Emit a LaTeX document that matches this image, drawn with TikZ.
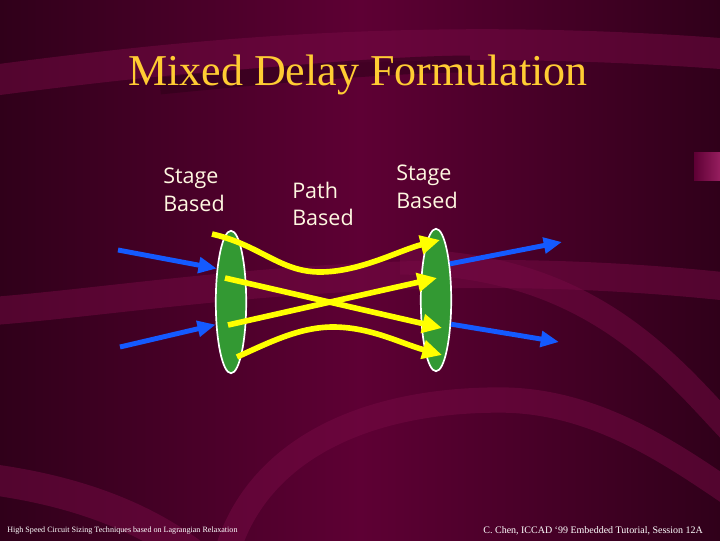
\documentclass[tikz,border=0pt]{standalone}
\usepackage{fontspec}
\setmainfont{Liberation Serif}
\newfontfamily\labelfont{Open Sans}
\usetikzlibrary{shapes.geometric,arrows.meta}

\definecolor{slidebg}{RGB}{94,0,52}
\definecolor{slidedark}{RGB}{48,0,26}
\definecolor{slidelight}{RGB}{118,10,68}
\definecolor{slidepink}{RGB}{150,30,95}
\definecolor{titlegold}{RGB}{255,204,51}
\definecolor{labelcream}{RGB}{255,248,225}
\definecolor{stagegreen}{RGB}{51,153,51}
\definecolor{wireblue}{RGB}{20,90,255}
\definecolor{pathyellow}{RGB}{255,255,0}

\begin{document}
\begin{tikzpicture}[
  x=0.025cm, y=-0.025cm,
  stage/.style={ellipse, draw=white, line width=1.2pt, fill=stagegreen, minimum width=0.76cm, minimum height=3.56cm, inner sep=0pt},
  txt/.style={align=left, text=labelcream, font=\labelfont\fontsize{15.3}{19.8}\selectfont},
  heading/.style={text=titlegold, font=\fontsize{31.3}{36}\selectfont},
  foot/.style={text=white, font=\fontsize{5.75}{7}\selectfont, inner sep=0pt},
  wire/.style={wireblue, line width=3.5pt, -{Triangle[length=13pt, width=11pt]}},
  pathwire/.style={pathyellow, line width=4pt, -{Triangle[length=14pt, width=13pt]}},
  swoosh/.style={slidelight, opacity=0.5}
]
% background
\useasboundingbox (0,0) rectangle (720,540);
\clip (0,0) rectangle (720,540);
\shade[left color=slidedark, right color=slidedark, middle color=slidebg] (0,0) rectangle (720,540);
\draw[swoosh, line width=22pt] (-20,82) .. controls (150,60) and (400,28) .. (740,55);
\draw[slidedark, line width=12pt, opacity=0.6] (160,86) .. controls (280,74) and (400,64) .. (470,64);
\draw[swoosh, line width=20pt] (-20,312) .. controls (150,300) and (400,250) .. (740,288);
\draw[swoosh, line width=18pt] (400,262) .. controls (600,262) and (680,380) .. (740,440);
\draw[swoosh, line width=22pt] (-20,478) .. controls (80,490) and (150,520) .. (200,560);
\draw[swoosh, line width=18pt] (225,560) .. controls (250,460) and (350,400) .. (500,400) .. controls (600,400) and (680,460) .. (740,500);
\shade[left color=slidebg, right color=slidepink] (694,152) rectangle (720,180);

% title and labels
\node[heading] (title) at (358,75) {Mixed Delay Formulation};
\node[txt] (lblStageL) at (194,190) {Stage\\Based};
\node[txt] (lblPath) at (323,204) {Path\\Based};
\node[txt] (lblStageR) at (427,187) {Stage\\Based};

% stages
\node[stage] (stageL) at (231,302) {};
\node[stage] (stageR) at (436,300) {};

% stage wires
\coordinate (srcTop) at (118,250);
\coordinate (srcBot) at (120,347);
\coordinate (sinkTop) at (562,242);
\coordinate (sinkBot) at (559,342);
\draw[wire] (srcTop) -- (stageL.113);
\draw[wire] (srcBot) -- (stageL.236);
\draw[wire] (stageR.69) -- (sinkTop);
\draw[wire] (stageR.-58) -- (sinkBot);

% paths
\coordinate (inA) at (212,234);
\coordinate (inB) at (225,278);
\coordinate (inC) at (228,325);
\coordinate (inD) at (237,357);
\coordinate (outA) at (440,240);
\coordinate (outB) at (442,328);
\coordinate (outC) at (437,278);
\coordinate (outD) at (442,355);
\draw[pathwire] (inA) .. controls (260,245) and (280,272) .. (320,272) .. controls (360,272) and (400,250) .. (outA);
\draw[pathwire] (inB) -- (outB);
\draw[pathwire] (inC) -- (outC);
\draw[pathwire] (inD) .. controls (270,342) and (300,327) .. (333,327) .. controls (370,327) and (400,343) .. (outD);

% footers
\node[foot, anchor=west] (footL) at (7,531) {High Speed Circuit Sizing Techniques based on Lagrangian Relaxation};
\node[foot, anchor=east, font=\fontsize{7.1}{8}\selectfont] (footR) at (703,531) {C. Chen, ICCAD `99 Embedded Tutorial, Session 12A};
\end{tikzpicture}
\end{document}
